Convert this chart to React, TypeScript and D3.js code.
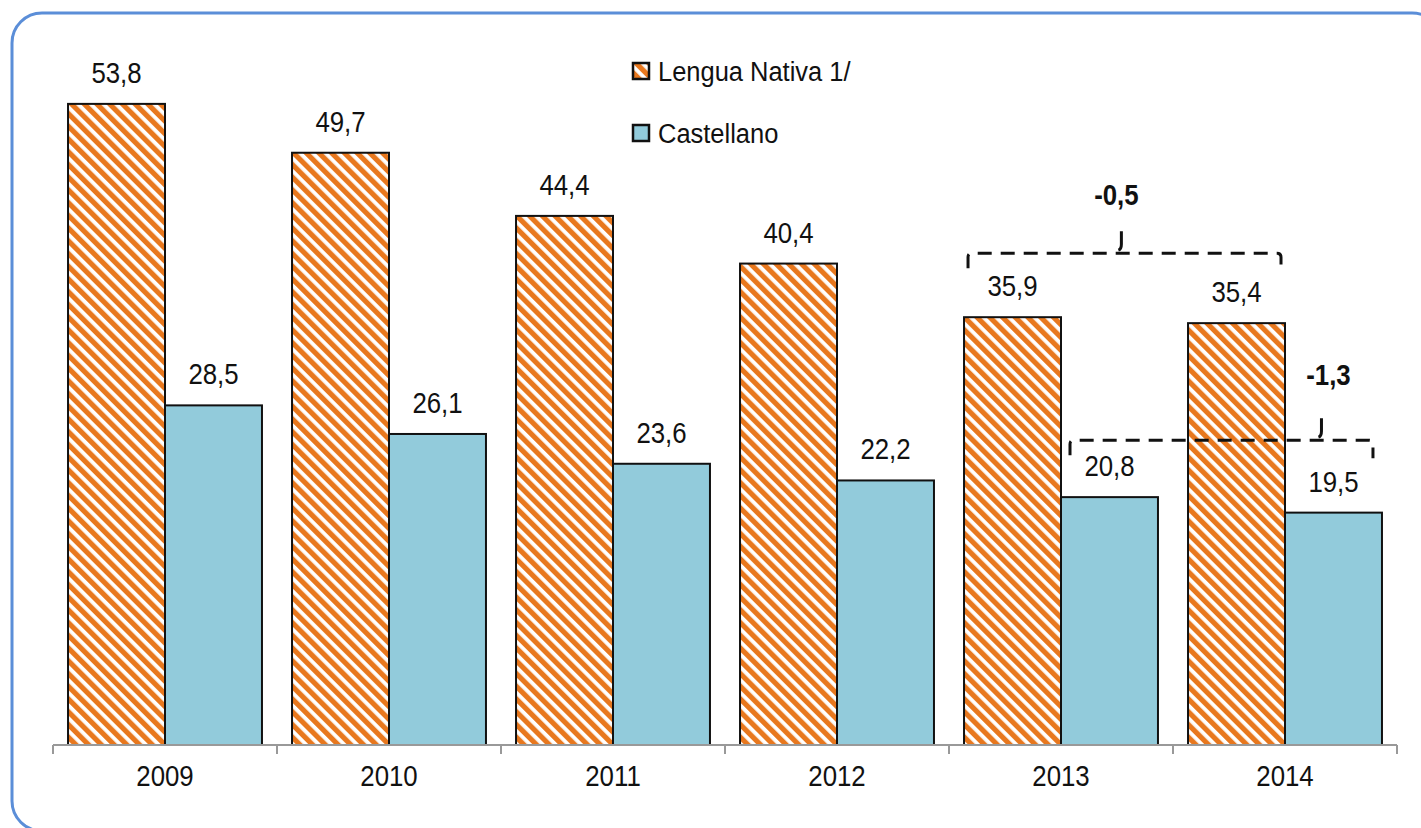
import React, { useEffect, useRef } from 'react';
import * as d3 from 'd3';

const years = ['2009', '2010', '2011', '2012', '2013', '2014'];
const seriesNames = ['Lengua Nativa 1/', 'Castellano'];
const lenguaNativa = [53.8, 49.7, 44.4, 40.4, 35.9, 35.4];
const castellano = [28.5, 26.1, 23.6, 22.2, 20.8, 19.5];

// bracket annotations: from / to bar (year, series index), label, notch position along the span
const brackets = [
  { from: ['2013', 0], to: ['2014', 0], label: '-0,5', notch: 0.49, lift: 64, inset: 4, labelDx: -5, labelDy: 48 },
  { from: ['2013', 1], to: ['2014', 1], label: '-1,3', notch: 0.83, lift: 57, inset: 9, labelDx: 7, labelDy: 55 },
];

const W = 1421;
const H = 828;
const FONT = "'Liberation Sans', Arial, sans-serif";
const SQUEEZE = 0.89;

const App = () => {
  const ref = useRef<SVGSVGElement>(null);

  useEffect(() => {
    const svg = d3.select(ref.current);
    svg.selectAll('*').remove();

    const baseY = 745;
    const x = d3.scaleBand().domain(years).range([53, 1397]).paddingInner(0).paddingOuter(0);
    const x1 = d3.scaleBand<number>().domain([0, 1]).range([0, x.bandwidth()]).paddingInner(0).paddingOuter(0.155);
    const y = d3.scaleLinear().domain([0, 60]).range([baseY, 30]);
    const values = [lenguaNativa, castellano];

    // hatch pattern
    const defs = svg.append('defs');
    const pat = defs.append('pattern')
      .attr('id', 'hatch')
      .attr('patternUnits', 'userSpaceOnUse')
      .attr('width', 9)
      .attr('height', 9)
      .attr('patternTransform', 'rotate(-45)');
    pat.append('rect').attr('width', 9).attr('height', 9).attr('fill', '#fff');
    pat.append('rect').attr('width', 5.2).attr('height', 9).attr('fill', '#E8781E');

    // frame
    svg.append('rect')
      .attr('x', 12).attr('y', 13)
      .attr('width', 1430).attr('height', 818)
      .attr('rx', 30).attr('ry', 30)
      .attr('fill', 'none')
      .attr('stroke', '#5B8ED8')
      .attr('stroke-width', 3);

    // narrow-looking text: squeeze horizontally around the anchor point
    const label = (parent: any, tx: number, ty: number, txt: string, size = 29, bold = false, anchor = 'middle', sq = SQUEEZE) =>
      parent.append('text')
        .attr('transform', `translate(${tx},${ty}) scale(${sq},1)`)
        .attr('text-anchor', anchor)
        .style('font-family', FONT)
        .style('font-size', `${size}px`)
        .style('font-weight', bold ? 'bold' : 'normal')
        .style('fill', '#111')
        .text(txt);

    const data = years.map((yr, i) => ({ yr, vals: [lenguaNativa[i], castellano[i]] }));
    const fills = ['url(#hatch)', '#92CBDB'];

    const groups = svg.selectAll('.grp')
      .data(data)
      .enter()
      .append('g')
      .attr('transform', d => `translate(${x(d.yr)},0)`);

    groups.selectAll('rect')
      .data(d => d.vals.map((v, k) => ({ v, k })))
      .enter()
      .append('rect')
      .attr('x', d => x1(d.k)!)
      .attr('y', d => y(d.v))
      .attr('width', x1.bandwidth())
      .attr('height', d => baseY - y(d.v))
      .attr('fill', d => fills[d.k])
      .attr('stroke', '#111')
      .attr('stroke-width', 2);

    groups.each(function (d) {
      const g = d3.select(this);
      d.vals.forEach((v, k) => {
        label(g, x1(k)! + x1.bandwidth() / 2, y(v) - 21, v.toFixed(1).replace('.', ','));
      });
    });

    // axis
    const axis = svg.append('g').attr('transform', `translate(0,${baseY})`);
    axis.call(d3.axisBottom(x).tickSize(0).tickPadding(20))
      .call(g => g.select('.domain').remove())
      .selectAll('text')
      .attr('transform', `scale(${SQUEEZE},1)`)
      .style('font-family', FONT)
      .style('font-size', '29px')
      .style('fill', '#111');
    axis.append('line')
      .attr('x1', 53).attr('x2', 1397)
      .attr('stroke', '#999').attr('stroke-width', 2);
    axis.selectAll('.bt')
      .data(d3.range(years.length + 1))
      .enter()
      .append('line')
      .attr('x1', i => 53 + i * x.step())
      .attr('x2', i => 53 + i * x.step())
      .attr('y1', 0).attr('y2', 9)
      .attr('stroke', '#999').attr('stroke-width', 2);

    // legend
    const leg = svg.append('g').attr('transform', 'translate(633,0)');
    seriesNames.forEach((name, k) => {
      const cy = 71 + k * 62;
      leg.append('rect')
        .attr('x', 0).attr('y', cy - 8)
        .attr('width', 16).attr('height', 16)
        .attr('fill', fills[k])
        .attr('stroke', '#111').attr('stroke-width', 2.5);
      label(leg, 25, cy + 10, name, 28, false, 'start', 0.91);
    });

    // brackets
    brackets.forEach(b => {
      const [fy, fk] = b.from as [string, number];
      const [ty, tk] = b.to as [string, number];
      const xa = x(fy)! + x1(fk)! + b.inset;
      const xb = x(ty)! + x1(tk)! + x1.bandwidth() - b.inset;
      const ly = y(values[fk][years.indexOf(fy)]) - b.lift;
      const g = svg.append('g')
        .attr('fill', 'none')
        .attr('stroke', '#111')
        .attr('stroke-width', 3);
      g.append('path')
        .attr('d', `M${xa},${ly + 15} L${xa},${ly + 4} Q${xa},${ly} ${xa + 4},${ly} L${xb - 4},${ly} Q${xb},${ly} ${xb},${ly + 4} L${xb},${ly + 18}`)
        .attr('stroke-dasharray', '14 9');
      const xm = xa + (xb - xa) * b.notch;
      g.append('path')
        .attr('d', `M${xm - 3},${ly - 3} Q${xm},${ly - 4} ${xm},${ly - 9} L${xm},${ly - 22}`);
      label(svg, xm + b.labelDx, ly - b.labelDy, b.label, 29, true);
    });
  }, []);

  return (
    <div style={{ position: 'absolute', left: 0, top: 0, width: W, height: H, background: '#fff' }}>
      <svg ref={ref} width={W} height={H} />
    </div>
  );
};

export default App;
